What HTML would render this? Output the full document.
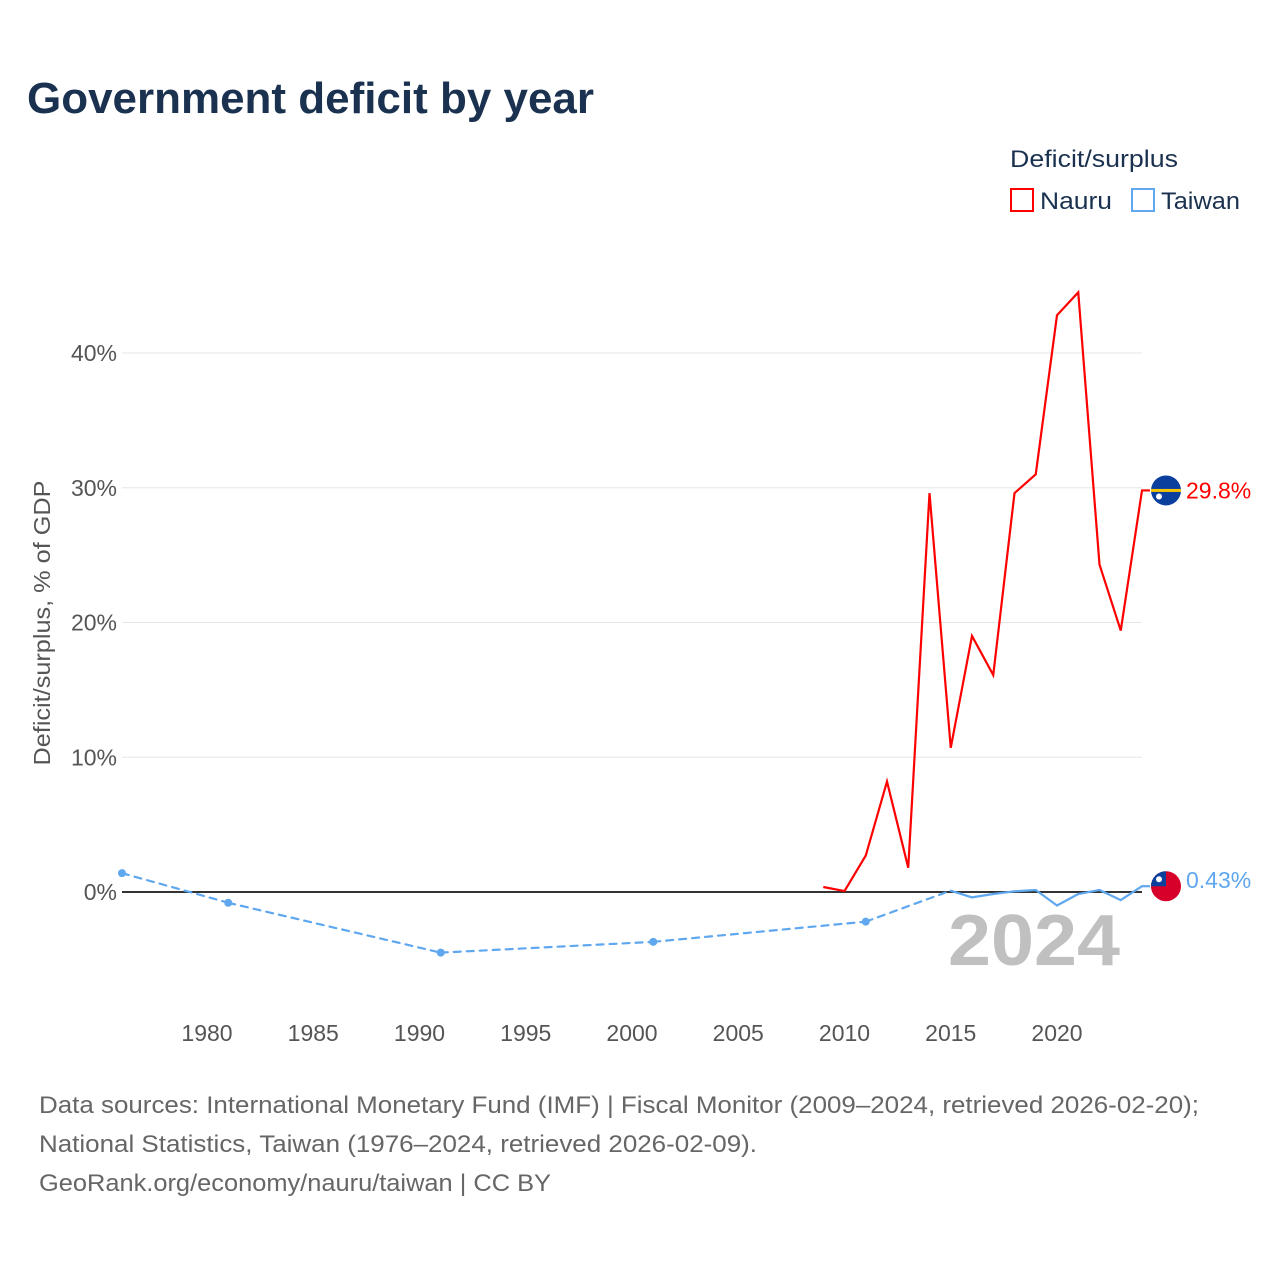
<!DOCTYPE html>
<html><head><meta charset="utf-8"><style>
html,body{margin:0;padding:0;background:#fff;}
svg{display:block;font-family:"Liberation Sans",sans-serif;}
</style></head><body>
<svg id="chart" width="1280" height="1280" viewBox="0 0 1280 1280">
<text x="27" y="113" font-size="44" font-weight="bold" fill="#1a3150" textLength="567" lengthAdjust="spacingAndGlyphs">Government deficit by year</text>
<g>
<text x="1010" y="167" font-size="24" fill="#1a3150" textLength="168" lengthAdjust="spacingAndGlyphs">Deficit/surplus</text>
<rect x="1011" y="189" width="22" height="22" fill="none" stroke="#ff0000" stroke-width="2"/>
<text x="1040" y="209" font-size="24" fill="#1a3150" textLength="72" lengthAdjust="spacingAndGlyphs">Nauru</text>
<rect x="1132" y="189" width="22" height="22" fill="none" stroke="#5fa7ee" stroke-width="2"/>
<text x="1161" y="209" font-size="24" fill="#1a3150" textLength="79" lengthAdjust="spacingAndGlyphs">Taiwan</text>
</g>
<text transform="translate(50,623) rotate(-90)" text-anchor="middle" font-size="23" fill="#555" textLength="285" lengthAdjust="spacingAndGlyphs">Deficit/surplus, % of GDP</text>
<g id="grid"></g>
<g id="xticks"></g>
<text x="1120" y="965" text-anchor="end" font-size="72" font-weight="bold" fill="#c0c0c0" textLength="172" lengthAdjust="spacingAndGlyphs">2024</text>
<g id="series"></g>
<g font-size="24" fill="#666">
<text x="39" y="1113" textLength="1160" lengthAdjust="spacingAndGlyphs">Data sources: International Monetary Fund (IMF) | Fiscal Monitor (2009–2024, retrieved 2026-02-20);</text>
<text x="39" y="1152" textLength="718" lengthAdjust="spacingAndGlyphs">National Statistics, Taiwan (1976–2024, retrieved 2026-02-09).</text>
<text x="39" y="1191" textLength="512" lengthAdjust="spacingAndGlyphs">GeoRank.org/economy/nauru/taiwan | CC BY</text>
</g>
</svg>
<script>
const yTicks = [0, 10, 20, 30, 40];
const xTicks = [1980, 1985, 1990, 1995, 2000, 2005, 2010, 2015, 2020];
const nauruYears = [2009,2010,2011,2012,2013,2014,2015,2016,2017,2018,2019,2020,2021,2022,2023,2024];
const nauruValues = [0.37,0.07,2.7,8.2,1.8,29.6,10.7,19.0,16.1,29.6,31.0,42.8,44.5,24.3,19.4,29.8];
const taiwanYears = [1976,1981,1991,2001,2011,2015,2016,2017,2018,2019,2020,2021,2022,2023,2024];
const taiwanValues = [1.4,-0.8,-4.5,-3.7,-2.2,0.1,-0.4,-0.15,0.05,0.15,-1.0,-0.15,0.15,-0.6,0.43];

const NS='http://www.w3.org/2000/svg';
const X = yr => 207 + (yr - 1980) * 21.25;
const Y = v => 892 - v * 13.475;
function mk(tag, attrs, parent){const e=document.createElementNS(NS,tag);for(const k in attrs)e.setAttribute(k,attrs[k]);parent.appendChild(e);return e;}
const grid=document.getElementById('grid'), xt=document.getElementById('xticks'), ser=document.getElementById('series');

yTicks.forEach(t=>{
  if(t!==0){const l=mk('line',{x1:122,x2:1142,y1:Y(t),y2:Y(t),stroke:'#e6e6e6','stroke-width':1},grid);
  
  }
  const tx=mk('text',{x:117,y:Y(t)+8,'text-anchor':'end','font-size':23,fill:'#555'},grid);
  tx.textContent=t+'%';
  
  
});
const zl=mk('line',{x1:122,x2:1142,y1:Y(0),y2:Y(0),stroke:'#333','stroke-width':2},grid);


xTicks.forEach(t=>{
  const tx=mk('text',{x:X(t),y:1041,'text-anchor':'middle','font-size':23,fill:'#555'},xt);
  tx.textContent=t;
  
  
});

// Nauru
const np=nauruYears.map((y,i)=>X(y)+','+Y(nauruValues[i])).join(' ')+' '+(X(2024)+8)+','+Y(nauruValues[nauruValues.length-1]);
const nl=mk('polyline',{points:np,fill:'none',stroke:'#ff0000','stroke-width':2.2,'stroke-linejoin':'miter'},ser);



// Taiwan: dashed across gaps, solid for consecutive years
for(let i=0;i<taiwanYears.length-1;i++){
  const gap=taiwanYears[i+1]-taiwanYears[i]>1;
  const seg=mk('line',{x1:X(taiwanYears[i]),y1:Y(taiwanValues[i]),x2:X(taiwanYears[i+1]),y2:Y(taiwanValues[i+1]),stroke:'#5fa7ee','stroke-width':2.2,'stroke-linecap':'round'},ser);
  if(gap)seg.setAttribute('stroke-dasharray','7 6');
  
  
}
const lastT=taiwanValues[taiwanValues.length-1];
const ext=mk('line',{x1:X(2024),y1:Y(lastT),x2:X(2024)+8,y2:Y(lastT),stroke:'#5fa7ee','stroke-width':2.2},ser);


taiwanYears.forEach((y,i)=>{
  const prevGap=i===0||y-taiwanYears[i-1]>1;
  const nextGap=i===taiwanYears.length-1||taiwanYears[i+1]-y>1;
  if(prevGap&&nextGap){
    const c=mk('circle',{cx:X(y),cy:Y(taiwanValues[i]),r:4,fill:'#5fa7ee'},ser);
    
    
  }
});

// end markers
function flagNauru(cx,cy){
  const g=mk('g',{},ser);
  
  
  mk('circle',{cx:cx,cy:cy,r:15,fill:'#0a3f9e'},g);
  mk('rect',{x:cx-15,y:cy-1.5,width:30,height:3,fill:'#f4c400'},g);
  mk('circle',{cx:cx-7,cy:cy+6,r:3,fill:'#fff'},g);
}
function flagTaiwan(cx,cy){
  const g=mk('g',{},ser);
  
  
  mk('circle',{cx:cx,cy:cy,r:15,fill:'#d7002a'},g);
  mk('path',{d:`M${cx-15},${cy} A15,15 0 0 1 ${cx},${cy-15} L${cx},${cy} Z`,fill:'#0a3f9e'},g);
  mk('circle',{cx:cx-7,cy:cy-7,r:3,fill:'#fff'},g);
}
const nLast=nauruValues[nauruValues.length-1];
flagNauru(1166,Y(nLast));
flagTaiwan(1166,Y(lastT)-6+6);
const nlab=mk('text',{x:1186,y:Y(nLast)+8,'font-size':23,fill:'#ff0000'},ser);
nlab.textContent=nLast.toFixed(1)+'%';


const tlab=mk('text',{x:1186,y:Y(lastT)+2,'font-size':23,fill:'#5fa7ee'},ser);
tlab.textContent=lastT.toFixed(2)+'%';


</script>
</body></html>
